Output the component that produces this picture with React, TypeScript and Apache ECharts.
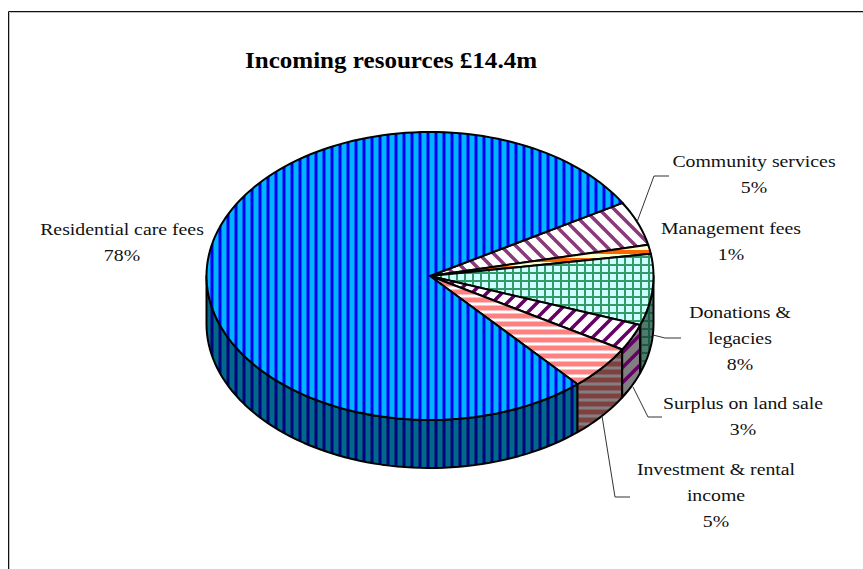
import React, { useEffect, useRef } from "react";
import * as echarts from "echarts";

const categories = ["Community services", "Management fees", "Donations & legacies", "Surplus on land sale", "Investment & rental income", "Residential care fees"];
const values = [5, 1, 8, 3, 5, 78];
const percentLabels = ["5%", "1%", "8%", "3%", "5%", "78%"];
const titleText = "Incoming resources £14.4m";

const CX = 430, CY = 276, RX = 223.5, RY = 144, DEPTH = 48;
const START_DEG = -30.5;

type Kind = "v" | "h" | "back" | "fwd" | "grid";
function tile(kind: Kind, bg: string, fg: string, size: number, w: number) {
  const c = document.createElement("canvas");
  c.width = size; c.height = size;
  const g = c.getContext("2d")!;
  g.fillStyle = bg; g.fillRect(0, 0, size, size);
  g.fillStyle = fg; g.strokeStyle = fg; g.lineWidth = w;
  if (kind === "v") g.fillRect(size / 2 - w / 2, 0, w, size);
  if (kind === "h") g.fillRect(0, size / 2 - w / 2, size, w);
  if (kind === "grid") { g.fillRect(0, 0, w, size); g.fillRect(0, 0, size, w); }
  if (kind === "back" || kind === "fwd") {
    for (let i = -size; i <= size; i += size) {
      g.beginPath();
      if (kind === "back") { g.moveTo(i - 1, -1); g.lineTo(i + size + 1, size + 1); }
      else { g.moveTo(i + size + 1, -1); g.lineTo(i - 1, size + 1); }
      g.stroke();
    }
  }
  return { image: c, repeat: "repeat" };
}

const styles: [Kind, string, string, string, string, number, number][] = [
  ["back", "#ffffff", "#8a3a78", "#808080", "#4a1f40", 15, 3.5],
  ["h", "#ffffcc", "#ff6600", "#808066", "#803300", 8, 4],
  ["grid", "#ccffff", "#339966", "#4f7a70", "#1f5a40", 8, 2],
  ["fwd", "#ffffff", "#660066", "#808080", "#660066", 15, 3.5],
  ["h", "#ffffff", "#ff8080", "#808080", "#804040", 8, 5],
  ["v", "#00b4ff", "#0000f0", "#006a86", "#000080", 8, 3],
];

const labelLayout: [number, number, string[]][] = [
  [754, 148, ["Community services"]],
  [731, 215, ["Management fees"]],
  [740, 299, ["Donations &", "legacies"]],
  [743, 390, ["Surplus on land sale"]],
  [716, 456, ["Investment & rental", "income"]],
  [122, 216, ["Residential care fees"]],
];
const leaders: number[][][] = [
  [[637, 222], [654, 176], [669, 176]],
  [],
  [[653, 335], [665, 338], [681, 338]],
  [[633, 387], [648, 417], [662, 417]],
  [[602, 416], [615, 497], [630, 497]],
  [],
];

function arcPts(a0: number, a1: number, dy = 0) {
  const n = Math.max(2, Math.ceil(Math.abs(a1 - a0) / 2));
  const p: number[][] = [];
  for (let i = 0; i <= n; i++) {
    const t = ((a0 + ((a1 - a0) * i) / n) * Math.PI) / 180;
    p.push([CX + RX * Math.cos(t), CY + RY * Math.sin(t) + dy]);
  }
  return p;
}

export default function App() {
  const ref = useRef<HTMLDivElement>(null);
  useEffect(() => {
    const chart = echarts.init(ref.current!, undefined, { renderer: "svg" });
    const total = values.reduce((a, b) => a + b, 0);
    const spans: [number, number][] = [];
    let acc = START_DEG;
    values.forEach((v) => { const e = acc + (v / total) * 360; spans.push([acc, e]); acc = e; });
    const fills = styles.map((s) => ({
      top: tile(s[0], s[1], s[2], s[5], s[6]),
      side: tile(s[0], s[3], s[4], s[5], s[6]),
    }));
    const stroke = { stroke: "#000", lineWidth: 2, lineJoin: "round" };
    const sideOrder = [5, 4, 3, 2];
    chart.setOption({
      animation: false,
      graphic: [
        { type: "polyline", silent: true, shape: { points: [[9.5, 569], [9.5, 12.5], [863, 12.5]] }, style: { stroke: "#c0c0c0", fill: "none", lineWidth: 1 } },
        { type: "polyline", silent: true, shape: { points: [[8.5, 569], [8.5, 11.5], [863, 11.5]] }, style: { stroke: "#111", fill: "none", lineWidth: 1 } },
        {
          type: "text", silent: true, x: 391, y: 60, scaleX: 1.09,
          style: { text: titleText, fontFamily: "Liberation Serif", fontWeight: "bold", fontSize: 23, fill: "#000", align: "center", verticalAlign: "middle" },
        },
      ],
      series: [{
        type: "custom",
        coordinateSystem: "none",
        silent: true,
        data: values.map((v, i) => [i, v]),
        renderItem: (params: any) => {
          const i = params.dataIndex;
          const [a0, a1] = spans[i];
          const children: any[] = [];
          const lo = Math.max(a0, 0), hi = Math.min(a1, 180);
          if (hi > lo) {
            const topEdge = arcPts(lo, hi);
            const botEdge = arcPts(hi, lo, DEPTH);
            children.push({ type: "polygon", z2: 1 + sideOrder.indexOf(i), shape: { points: [...topEdge, ...botEdge] }, style: { fill: fills[i].side, ...stroke } });
          }
          children.push({ type: "polygon", z2: 10, shape: { points: [[CX, CY], ...arcPts(a0, a1)] }, style: { fill: fills[i].top, ...stroke } });
          if (leaders[i].length) {
            children.push({ type: "polyline", z2: 11, shape: { points: leaders[i] }, style: { fill: "none", stroke: "#333", lineWidth: 1 } });
          }
          const [lx, ly, lines] = labelLayout[i];
          children.push({
            type: "text", z2: 12, x: lx, y: ly, scaleX: 1.165,
            style: {
              text: [...lines, percentLabels[i]].join("\n"),
              fontFamily: "Liberation Serif", fontSize: 17, lineHeight: 26, fill: "#111",
              align: "center", verticalAlign: "top",
            },
          });
          return { type: "group", children };
        },
      }],
    });
    return () => chart.dispose();
  }, []);
  return <div ref={ref} style={{ position: "fixed", left: 0, top: 0, width: 863, height: 569, background: "#fff" }} />;
}
